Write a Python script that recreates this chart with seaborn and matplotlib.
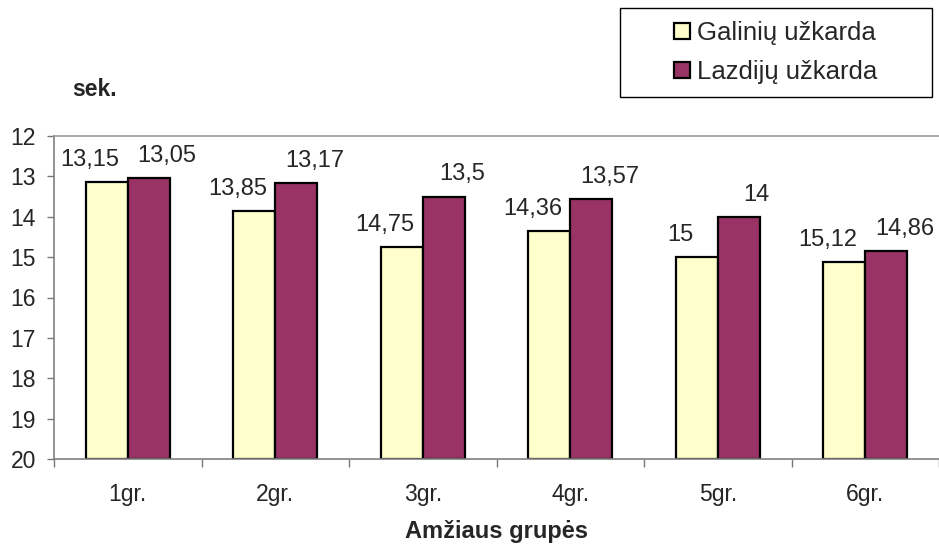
import matplotlib
matplotlib.use("Agg")
import matplotlib.pyplot as plt
from matplotlib.patches import Patch, Rectangle
import numpy as np
import pandas as pd
import seaborn as sns

# Data: running times (seconds) by age group for two border posts
groups = ["1gr.", "2gr.", "3gr.", "4gr.", "5gr.", "6gr."]
galiniu = [13.15, 13.85, 14.75, 14.36, 15.0, 15.12]
lazdiju = [13.05, 13.17, 13.5, 13.57, 14.0, 14.86]
series = ["Galinių užkarda", "Lazdijų užkarda"]
colors = ["#FFFFCC", "#993366"]
y_ticks = [12, 13, 14, 15, 16, 17, 18, 19, 20]
base = 20  # bars grow up from the bottom of the inverted axis

sns.set_theme(style="white")
plt.rcParams["font.family"] = ["Liberation Sans", "DejaVu Sans"]

df = pd.DataFrame({
    "group": groups * 2,
    "series": [series[0]] * len(groups) + [series[1]] * len(groups),
    "value": galiniu + lazdiju,
})
df["rise"] = df["value"] - base

fig = plt.figure(figsize=(9.39, 5.44), dpi=100)
ax = fig.add_axes([54 / 939, 85 / 544, 885 / 939, 323 / 544])

sns.barplot(data=df, x="group", y="rise", hue="series", order=groups,
            hue_order=series, palette=colors, width=0.57, gap=0,
            bottom=base, edgecolor="black", linewidth=1.6, saturation=1,
            legend=False, ax=ax)

ax.set_ylim(20, 12)
ax.set_xlim(-0.5, len(groups) - 0.5)
ax.set_yticks(y_ticks)
ax.set_yticklabels([str(t) for t in y_ticks], fontsize=16.5)

# category ticks sit between groups; labels sit at group centres
ax.set_xticks(np.arange(-0.5, len(groups), 1.0))
ax.set_xticklabels([])
ax.set_xticks(np.arange(len(groups)), minor=True)
ax.set_xticklabels(groups, minor=True, fontsize=16.5)
ax.tick_params(axis="x", which="major", direction="out", length=6,
               width=1, color="#777777", bottom=True)
ax.tick_params(axis="x", which="minor", length=0, pad=17)
ax.tick_params(axis="y", direction="out", length=5, width=1,
               color="#777777", pad=8, left=True)
ax.set_xlabel("")
ax.set_ylabel("")

for side in ["left", "bottom", "top"]:
    ax.spines[side].set_color("#808080")
    ax.spines[side].set_linewidth(1.2)
ax.spines["top"].set_color("#999999")
ax.spines["right"].set_visible(False)

# value labels above each bar
half = 0.57 / 4
for i, (g, l) in enumerate(zip(galiniu, lazdiju)):
    ax.annotate(f"{g:g}".replace(".", ","), (i - half, g),
                xytext=(-12, 8), textcoords="offset points",
                ha="center", va="bottom", fontsize=17)
    ax.annotate(f"{l:g}".replace(".", ","), (i + half, l),
                xytext=(13, 8), textcoords="offset points",
                ha="center", va="bottom", fontsize=17)

fig.text(72 / 939, 1 - 96 / 544, "sek.", fontsize=16.5, fontweight="bold",
         ha="left", va="baseline")
fig.text(497 / 939, 6 / 544, "Amžiaus grupės", fontsize=17,
         fontweight="bold", ha="center", va="baseline")

# legend inside a fixed box
fig.add_artist(Rectangle((620 / 939, 1 - 97 / 544), 312 / 939, 89 / 544,
                         transform=fig.transFigure, fill=False,
                         edgecolor="black", linewidth=1))
handles = [Patch(facecolor=c, edgecolor="black", linewidth=1.6) for c in colors]
fig.legend(handles, series, loc="center",
           bbox_to_anchor=(776 / 939, 1 - 52.5 / 544), frameon=False,
           fontsize=18.5, handlelength=0.6, handleheight=0.6,
           handletextpad=0.3, labelspacing=0.6, borderpad=0)

fig.savefig("out.png", dpi=100)
